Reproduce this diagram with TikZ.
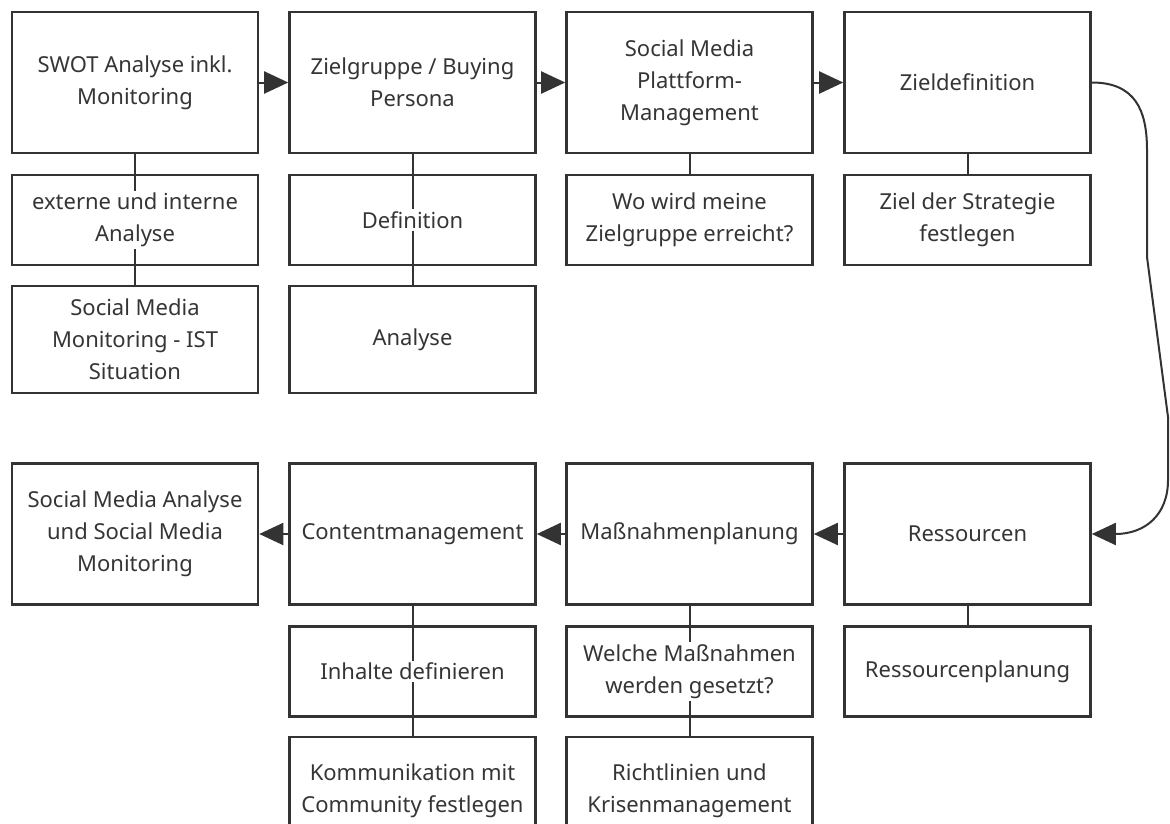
\documentclass[tikz,border=0pt]{standalone}
\usepackage{fontspec}
\setmainfont{Noto Sans}
\usetikzlibrary{arrows.meta}
\definecolor{ink}{HTML}{333333}
\definecolor{txt}{HTML}{353535}
\tikzset{
  box/.style={draw=ink, line width=2.6pt, minimum width=246pt, inner sep=0pt, align=center,
    text=txt, font=\fontsize{22}{32}\selectfont},
  mainbox/.style={box, minimum height=141pt},
  subbox/.style={box, minimum height=90pt},
  subsubbox/.style={box, minimum height=107pt},
  lbl/.style={inner sep=2pt, align=center, text=txt, font=\fontsize{22}{32}\selectfont},
  flow/.style={draw=ink, line width=2pt, -{Triangle[length=24pt,width=22pt]}},
  link/.style={draw=ink, line width=2pt}
}
\begin{document}
\begin{tikzpicture}[x=1pt,y=-1pt]
\useasboundingbox (0,0) rectangle (1170,823);
\clip (0,0) rectangle (1170,823);
\fill[white] (0,0) rectangle (1170,823);
% ---------- top row ----------
\node[mainbox] (swot) at (135,82.5) {SWOT Analyse inkl.\\Monitoring};
\node[mainbox] (zg)   at (412.5,82.5) {Zielgruppe / Buying\\Persona};
\node[mainbox] (smpm) at (689.5,82.5) {Social Media\\Plattform-\\Management};
\node[mainbox] (zdef) at (967.5,82.5) {Zieldefinition};
\node[subbox] (ext)  at (135,220) {};
\node[subbox] (defi) at (412.5,220) {};
\node[subbox] (wo)   at (689.5,220) {};
\node[subbox] (zds)  at (967.5,220) {};
\node[subsubbox] (smm)  at (135,339.5) {};
\node[subsubbox] (anal) at (412.5,339.5) {};
% ---------- bottom row ----------
\node[mainbox] (sma)  at (135,534) {Social Media Analyse\\und Social Media\\Monitoring};
\node[mainbox] (cont) at (412.5,534) {Contentmanagement};
\node[mainbox] (mass) at (689.5,534) {Maßnahmenplanung};
\node[mainbox] (res)  at (967.5,534) {Ressourcen};
\node[subbox] (inh)    at (412.5,671.5) {};
\node[subbox] (welche) at (689.5,671.5) {};
\node[subbox] (resp)   at (967.5,671.5) {};
\node[subsubbox] (komm)  at (412.5,790.5) {};
\node[subsubbox] (richt) at (689.5,790.5) {};
% ---------- labels of sub boxes ----------
\node[lbl] (extt)  at (ext.center)  {externe und interne\\Analyse};
\node[lbl] (defit) at (defi.center) {Definition};
\node[lbl] (wot)   at (wo.center)   {Wo wird meine\\Zielgruppe erreicht?};
\node[lbl] (zdst)  at (zds.center)  {Ziel der Strategie\\festlegen};
\node[lbl] (smmt)  at (smm.center)  {Social Media\\Monitoring - IST\\Situation};
\node[lbl] (analt) at (anal.center) {Analyse};
\node[lbl] (inht)  at (inh.center)  {Inhalte definieren};
\node[lbl] (welchet) at (welche.center) {Welche Maßnahmen\\werden gesetzt?};
\node[lbl] (respt) at (resp.center) {Ressourcenplanung};
\node[lbl] (kommt) at (komm.center) {Kommunikation mit\\Community festlegen};
\node[lbl] (richtt) at (richt.center) {Richtlinien und\\Krisenmanagement};
% ---------- vertical links (interrupted by the sub box texts) ----------
\draw[link] (swot.south) -- (extt.north);
\draw[link] (extt.south) -- (smm.north);
\draw[link] (zg.south) -- (defit.north);
\draw[link] (defit.south) -- (anal.north);
\draw[link] (smpm.south) -- (wo.north);
\draw[link] (zdef.south) -- (zds.north);
\draw[link] (cont.south) -- (inht.north);
\draw[link] (inht.south) -- (komm.north);
\draw[link] (mass.south) -- (welchet.north);
\draw[link] (welchet.south) -- (richt.north);
\draw[link] (res.south) -- (resp.north);
% ---------- flow arrows ----------
\draw[flow] (swot.east) -- (zg.west);
\draw[flow] (zg.east) -- (smpm.west);
\draw[flow] (smpm.east) -- (zdef.west);
\draw[flow] (zdef.east) .. controls (1135,82.5) and (1147,110) .. (1147,150)
   -- (1147,257) -- (1168,417) -- (1168,480)
   .. controls (1168,515) and (1145,534) .. (res.east);
\draw[flow] (res.west) -- (mass.east);
\draw[flow] (mass.west) -- (cont.east);
\draw[flow] (cont.west) -- (sma.east);
\end{tikzpicture}
\end{document}
